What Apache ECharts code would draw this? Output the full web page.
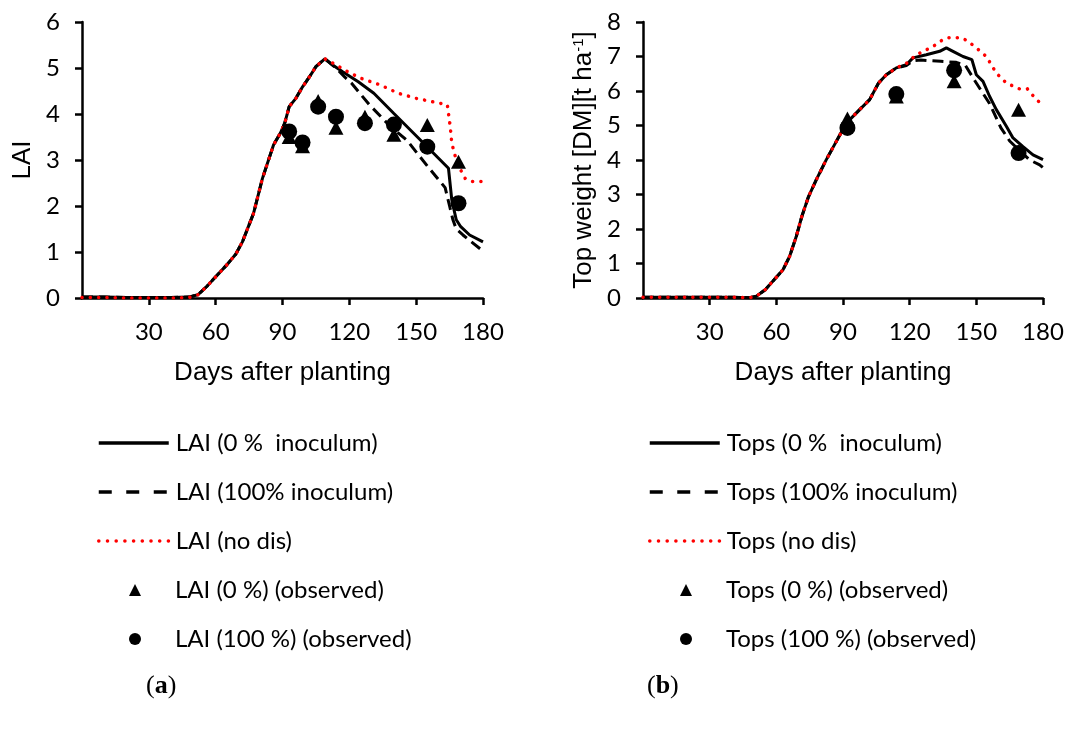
<!DOCTYPE html>
<html>
<head>
    <meta charset="utf-8">
    <title>LAI and top weight</title>
    <script src="https://cdn.jsdelivr.net/npm/echarts@6/dist/echarts.min.js"></script>
    <style>
        html, body { margin: 0; padding: 0; background: #fff; }
    </style>
</head>
<body>
    <div id="main" style="width:1068px; height:731px;"></div>
    <script>
        // x ticks (days after planting)
        var dayTicks = [0, 30, 60, 90, 120, 150, 180]

        // (a) LAI simulated
        var lai0Days = [0, 10, 20, 30, 40, 48, 52, 56, 60, 65, 69, 72, 77, 81, 86, 89, 91, 93, 96, 99, 102, 105, 109, 113, 117, 124, 131, 140, 152, 164.5, 166, 168, 170, 174, 180]
        var lai0Vals = [0.02, 0.02, 0.01, 0.01, 0.01, 0.02, 0.07, 0.25, 0.46, 0.72, 0.95, 1.22, 1.84, 2.6, 3.33, 3.58, 3.8, 4.16, 4.34, 4.59, 4.8, 5.03, 5.2, 5.05, 4.92, 4.7, 4.45, 4.01, 3.43, 2.82, 2.13, 1.7, 1.55, 1.37, 1.22]
        var lai100Days = [0, 10, 20, 30, 40, 48, 52, 56, 60, 65, 69, 72, 77, 81, 86, 89, 91, 93, 96, 99, 102, 105, 109, 114, 118, 121, 129, 138, 146, 155, 163, 165, 166.5, 168, 171, 174, 180]
        var lai100Vals = [0.02, 0.02, 0.01, 0.01, 0.01, 0.02, 0.07, 0.25, 0.46, 0.72, 0.95, 1.22, 1.84, 2.6, 3.33, 3.58, 3.8, 4.16, 4.34, 4.59, 4.8, 5.03, 5.2, 5.0, 4.8, 4.67, 4.2, 3.75, 3.42, 2.87, 2.4, 2.0, 1.7, 1.5, 1.37, 1.25, 1.02]
        var laiNoDays = [0, 10, 20, 30, 40, 48, 52, 56, 60, 65, 69, 72, 77, 81, 86, 89, 91, 93, 96, 99, 102, 105, 109, 114, 118, 125, 134, 142, 150, 157, 164, 165.3, 166, 167.6, 170, 172, 175, 180]
        var laiNoVals = [0.01, 0.01, 0.0, 0.0, 0.0, 0.01, 0.07, 0.25, 0.46, 0.72, 0.95, 1.22, 1.84, 2.6, 3.33, 3.58, 3.8, 4.16, 4.34, 4.59, 4.8, 5.03, 5.2, 5.07, 4.95, 4.78, 4.63, 4.45, 4.34, 4.27, 4.2, 3.72, 3.36, 3.07, 2.78, 2.6, 2.53, 2.53]

        // (a) LAI observed
        var laiObsDays = [93, 99, 106, 114, 127, 140, 155, 169]
        var laiObs0 = [3.5, 3.3, 4.28, 3.7, 3.94, 3.55, 3.76, 2.96]
        var laiObs100 = [3.62, 3.38, 4.16, 3.94, 3.8, 3.77, 3.29, 2.06]

        // (b) Top weight simulated
        var tops0Days = [0, 10, 20, 30, 40, 48, 51, 55, 59, 63, 66, 69, 71.5, 74.5, 78, 82.5, 87, 91.5, 97.5, 102, 106, 109.5, 114, 118.5, 121.5, 127.5, 133.5, 136.5, 139.5, 144, 148, 150, 153, 156, 159, 163.5, 166.5, 171, 175.5, 180]
        var tops0Vals = [0.02, 0.02, 0.02, 0.02, 0.02, 0.01, 0.05, 0.24, 0.53, 0.82, 1.21, 1.79, 2.37, 2.94, 3.43, 4.01, 4.54, 5.07, 5.46, 5.75, 6.23, 6.47, 6.67, 6.76, 6.96, 7.05, 7.15, 7.25, 7.15, 7.0, 6.91, 6.47, 6.28, 5.84, 5.46, 4.98, 4.64, 4.39, 4.15, 4.01]
        var tops100Days = [0, 10, 20, 30, 40, 48, 51, 55, 59, 63, 66, 69, 71.5, 74.5, 78, 82.5, 87, 91.5, 97.5, 102, 106, 109.5, 114, 118.5, 121.5, 125, 129, 134, 141, 145, 149, 156, 161, 165, 169, 174, 178.5, 180]
        var tops100Vals = [0.02, 0.02, 0.02, 0.02, 0.02, 0.01, 0.05, 0.24, 0.53, 0.82, 1.21, 1.79, 2.37, 2.94, 3.43, 4.01, 4.54, 5.07, 5.46, 5.75, 6.23, 6.47, 6.67, 6.74, 6.88, 6.9, 6.88, 6.86, 6.83, 6.75, 6.33, 5.63, 4.94, 4.55, 4.3, 4.0, 3.86, 3.78]
        var topsNoDays = [0, 10, 20, 30, 40, 48, 51, 55, 59, 63, 66, 69, 71.5, 74.5, 78, 82.5, 87, 91.5, 97.5, 102, 106, 109.5, 114, 118.5, 123, 130.5, 135, 137, 143.5, 146, 150, 154.5, 159, 163.5, 169.5, 173, 177, 180]
        var topsNoVals = [0.02, 0.02, 0.02, 0.02, 0.02, 0.01, 0.05, 0.24, 0.53, 0.82, 1.21, 1.79, 2.37, 2.94, 3.43, 4.01, 4.54, 5.07, 5.46, 5.75, 6.23, 6.47, 6.67, 6.8, 7.05, 7.29, 7.49, 7.54, 7.54, 7.45, 7.25, 7.0, 6.52, 6.23, 6.06, 6.06, 5.75, 5.6]

        // (b) Top weight observed
        var topsObsDays = [92, 114, 140, 169]
        var topsObs0 = [5.2, 5.84, 6.28, 5.46]
        var topsObs100 = [4.93, 5.91, 6.6, 4.2]

        var pairs = function(xs, ys) {
            var out = []
            for (var i = 0; i < xs.length; i++) {
                out.push([xs[i], ys[i]])
            }
            return out
        }

        var element = document.querySelector('#main')
        var myChart = echarts.init(element)

        var tickFont = 'Lato'
        var nameFont = 'Liberation Sans'

        var makeXAxis = function(gridIndex) {
            return {
                gridIndex: gridIndex,
                type: 'value',
                min: dayTicks[0],
                max: dayTicks[dayTicks.length - 1],
                interval: 30,
                name: 'Days after planting',
                nameLocation: 'middle',
                nameGap: 62,
                nameTextStyle: { fontFamily: nameFont, fontSize: 26, color: '#000' },
                axisLine: { show: true, onZero: false, lineStyle: { color: '#000', width: 2.5 } },
                axisTick: { show: true, inside: false, length: 7, lineStyle: { color: '#000', width: 2.5 } },
                axisLabel: { showMinLabel: false, margin: 22, fontFamily: tickFont, fontSize: 24, color: '#000' },
                splitLine: { show: false }
            }
        }

        var makeYAxis = function(gridIndex, max, name) {
            return {
                gridIndex: gridIndex,
                type: 'value',
                min: 0,
                max: max,
                interval: 1,
                name: name,
                nameLocation: 'middle',
                nameGap: 46,
                nameTextStyle: {
                    fontFamily: nameFont, fontSize: 26, color: '#000',
                    rich: {
                        sup: { fontFamily: nameFont, fontSize: 15, color: '#000', verticalAlign: 'top', padding: [0, 0, 10, 0] }
                    }
                },
                axisLine: { show: true, lineStyle: { color: '#000', width: 2.5 } },
                axisTick: { show: true, inside: false, length: 7, lineStyle: { color: '#000', width: 2.5 } },
                axisLabel: { margin: 22, fontFamily: tickFont, fontSize: 24, color: '#000' },
                splitLine: { show: false }
            }
        }

        var solid = { color: '#000', width: 3, type: 'solid' }
        var dashed = { color: '#000', width: 3, type: [11, 6] }
        var dotted = { color: '#ff0000', width: 3.5, type: [0.1, 8.2], cap: 'round' }

        // the legend draws its sample lines a bit heavier, with longer dashes
        var legendLineStyles = [
            { color: '#000', width: 3.5, type: 'solid' },
            { color: '#000', width: 3.5, type: [13, 14.5] },
            { color: '#ff0000', width: 3.5, type: [0.1, 8.6], cap: 'round' }
        ]

        var lineSeries = function(name, idx, data, style) {
            return {
                name: name,
                type: 'line',
                xAxisIndex: idx,
                yAxisIndex: idx,
                data: data,
                symbol: 'none',
                color: style.color,
                lineStyle: style,
                z: 2
            }
        }

        var scatterSeries = function(name, idx, data, symbol, size) {
            return {
                name: name,
                type: 'scatter',
                xAxisIndex: idx,
                yAxisIndex: idx,
                data: data,
                symbol: symbol,
                symbolSize: size,
                itemStyle: { color: '#000', opacity: 1 },
                z: 3
            }
        }

        var legendText = { fontFamily: tickFont, fontSize: 24, color: '#000' }

        // line legend: hide the default symbol, keep a line sample
        var lineLegend = function(left, names, styles) {
            var items = []
            for (var i = 0; i < names.length; i++) {
                items.push({
                    name: names[i],
                    itemStyle: { opacity: 0 },
                    lineStyle: styles[i]
                })
            }
            return {
                orient: 'vertical',
                left: left,
                top: 431,
                padding: 0,
                itemWidth: 70,
                itemHeight: 12,
                itemGap: 25,
                data: items,
                selectedMode: false,
                textStyle: Object.assign({ padding: [0, 0, 0, 2] }, legendText)
            }
        }

        // marker legend: small square icon area so triangles are not stretched
        var markerLegend = function(left, names, icons) {
            var items = []
            for (var i = 0; i < names.length; i++) {
                items.push({ name: names[i], icon: icons[i] })
            }
            return {
                orient: 'vertical',
                left: left,
                top: 578,
                padding: 0,
                itemWidth: 12,
                itemHeight: 12,
                itemGap: 25,
                data: items,
                selectedMode: false,
                textStyle: Object.assign({ padding: [0, 0, 0, 29] }, legendText)
            }
        }

        var laiNames = ['LAI (0 %  inoculum)', 'LAI (100% inoculum)', 'LAI (no dis)', 'LAI (0 %) (observed)', 'LAI (100 %) (observed)']
        var topsNames = ['Tops (0 %  inoculum)', 'Tops (100% inoculum)', 'Tops (no dis)', 'Tops (0 %) (observed)', 'Tops (100 %) (observed)']

        var caption = function(left, letter) {
            return {
                type: 'text', left: left, top: 673,
                style: {
                    text: '({b|' + letter + '})', fontFamily: 'Liberation Serif', fontSize: 26, fill: '#000',
                    rich: { b: { fontFamily: 'Liberation Serif', fontSize: 26, fontWeight: 'bold' } }
                }
            }
        }

        var option = {
            animation: false,
            backgroundColor: '#fff',
            grid: [
                { left: 82, top: 22, width: 401, height: 276 },
                { left: 643, top: 22, width: 400, height: 276 }
            ],
            xAxis: [makeXAxis(0), makeXAxis(1)],
            yAxis: [
                makeYAxis(0, 6, 'LAI'),
                makeYAxis(1, 8, 'Top weight [DM][t ha{sup|-1}]')
            ],
            legend: [
                lineLegend(97, laiNames.slice(0, 3), legendLineStyles),
                markerLegend(129, laiNames.slice(3), ['triangle', 'circle']),
                lineLegend(648, topsNames.slice(0, 3), legendLineStyles),
                markerLegend(680, topsNames.slice(3), ['triangle', 'circle'])
            ],
            graphic: [caption(146, 'a'), caption(647, 'b')],
            series: [
                lineSeries(laiNames[0], 0, pairs(lai0Days, lai0Vals), solid),
                lineSeries(laiNames[1], 0, pairs(lai100Days, lai100Vals), dashed),
                lineSeries(laiNames[2], 0, pairs(laiNoDays, laiNoVals), dotted),
                scatterSeries(laiNames[3], 0, pairs(laiObsDays, laiObs0), 'triangle', [15, 14]),
                scatterSeries(laiNames[4], 0, pairs(laiObsDays, laiObs100), 'circle', 16),

                lineSeries(topsNames[0], 1, pairs(tops0Days, tops0Vals), solid),
                lineSeries(topsNames[1], 1, pairs(tops100Days, tops100Vals), dashed),
                lineSeries(topsNames[2], 1, pairs(topsNoDays, topsNoVals), dotted),
                scatterSeries(topsNames[3], 1, pairs(topsObsDays, topsObs0), 'triangle', [15, 14]),
                scatterSeries(topsNames[4], 1, pairs(topsObsDays, topsObs100), 'circle', 16)
            ]
        }

        myChart.setOption(option)
    </script>
</body>
</html>
